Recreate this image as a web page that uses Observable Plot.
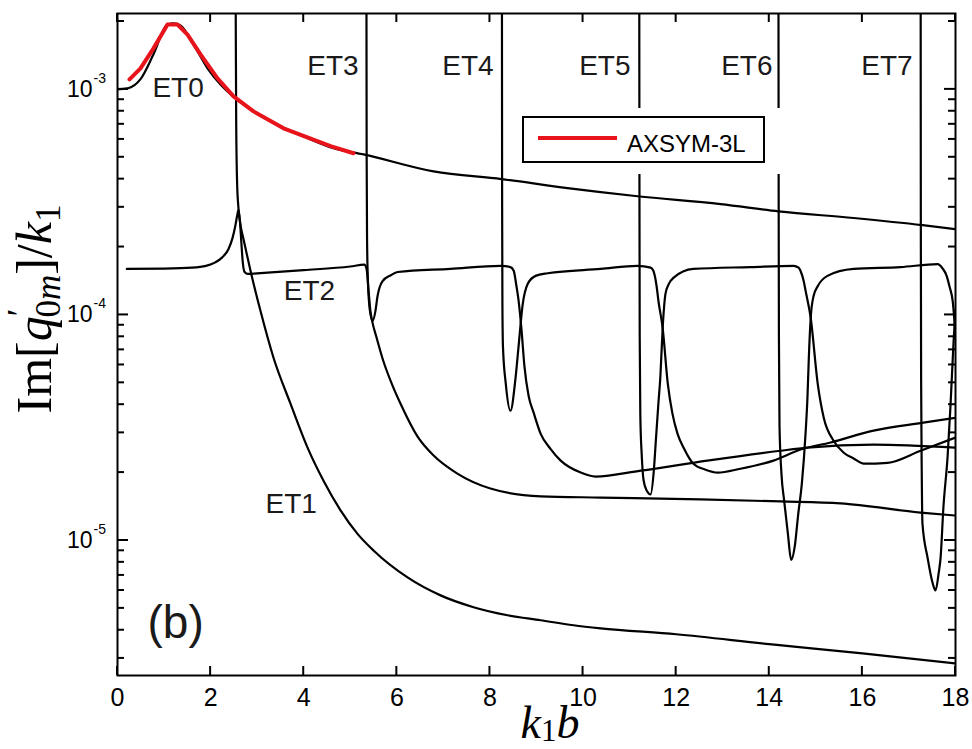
<!DOCTYPE html>
<html>
<head>
<meta charset="utf-8">
<script src="https://cdn.jsdelivr.net/npm/d3@7"></script>
<script src="https://cdn.jsdelivr.net/npm/@observablehq/plot@0.6"></script>
<style>
  body { margin: 0; background: #fff; }
  #wrap { position: relative; width: 972px; height: 749px; }
  .legend-pad { position: absolute; left: 512px; top: 108px; width: 273px; height: 66px; background: #fff; }
  .legend-box { position: absolute; left: 10px; top: 8px; width: 239px; height: 43px; border: 2px solid #000; background: #fff; }
  .legend-box svg { position: absolute; left: 0; top: 0; }
</style>
</head>
<body>
<div id="wrap"></div>
<script>
// x = k1 b, y = Im[q'_0m]/k1 (log scale)
const xTicks = [0, 2, 4, 6, 8, 10, 12, 14, 16, 18];
const yMajor = [1e-5, 1e-4, 1e-3];
const yMinor = [3e-6, 4e-6, 5e-6, 6e-6, 7e-6, 8e-6, 9e-6,
                2e-5, 3e-5, 4e-5, 5e-5, 6e-5, 7e-5, 8e-5, 9e-5,
                2e-4, 3e-4, 4e-4, 5e-4, 6e-4, 7e-4, 8e-4, 9e-4, 2e-3];

const et0 = [[0,1.0e-3],[0.215,1.01e-3],[0.494,1.11e-3],[0.773,1.43e-3],[1.074,1.94e-3],[1.203,1.96e-3],
  [1.353,1.92e-3],[1.633,1.58e-3],[1.933,1.24e-3],[2.213,1.05e-3],[2.535,9.12e-4],[2.922,7.99e-4],
  [3.502,6.86e-4],[4.039,6.13e-4],[4.64,5.48e-4],[5.285,5.15e-4],[6.788,4.33e-4],[8.249,4.0e-4],
  [9.667,3.65e-4],[11.171,3.36e-4],[12.954,3.10e-4],[14.2,2.88e-4],[15.811,2.69e-4],[17.294,2.50e-4],[18,2.40e-4]];

const et1 = [[2.535,1e-1],[2.54,2e-3],[2.55,7e-4],[2.57,3.8e-4],[2.60,2.95e-4],[2.65,2.45e-4],[2.70,2.2e-4],
  [2.78,1.85e-4],[2.857,1.57e-4],[3.072,1.04e-4],[3.351,6.46e-5],[3.716,4.04e-5],[4.082,2.58e-5],
  [4.425,1.84e-5],[4.791,1.36e-5],[5.156,1.07e-5],[5.499,9.03e-6],[6.23,6.86e-6],[6.939,5.71e-6],
  [7.648,5.06e-6],[8.378,4.66e-6],[9.087,4.43e-6],[9.796,4.21e-6],[10.376,4.08e-6],[12,3.84e-6],
  [14,3.47e-6],[16,3.16e-6],[18,2.85e-6]];

const et2 = [[0.2,1.60e-4],[1.0,1.605e-4],[1.6,1.62e-4],[1.9,1.65e-4],[2.1,1.71e-4],[2.25,1.8e-4],
  [2.38,1.95e-4],[2.47,2.19e-4],[2.53,2.48e-4],[2.57,2.75e-4],[2.60,2.92e-4],[2.63,2.6e-4],[2.66,2.1e-4],
  [2.69,1.72e-4],[2.73,1.55e-4],[2.8,1.52e-4],[3.0,1.53e-4],[4.0,1.58e-4],[5.0,1.64e-4],[5.3,1.67e-4],
  [5.35,1.6e-4],[5.39,1.3e-4],[5.43,1.05e-4],[5.48,9.2e-5],[5.56,8.0e-5],[5.71,6.25e-5],[5.91,4.85e-5],
  [6.08,4.04e-5],[6.45,2.88e-5],[6.79,2.38e-5],[7.30,1.98e-5],[8.01,1.70e-5],[9.09,1.57e-5],[10.38,1.55e-5],
  [12.52,1.52e-5],[14.24,1.49e-5],[15.53,1.46e-5],[17.25,1.33e-5],[18,1.29e-5]];

const et3 = [[5.345,1e-1],[5.348,2e-3],[5.352,5e-4],[5.36,2.2e-4],[5.38,1.4e-4],[5.42,1.05e-4],[5.48,9.4e-5],
  [5.54,1.04e-4],[5.585,1.21e-4],[5.69,1.41e-4],[5.87,1.50e-4],[6.02,1.55e-4],[7.15,1.60e-4],[8.23,1.65e-4],
  [8.44,1.63e-4],[8.51,1.57e-4],[8.57,1.34e-4],[8.61,1.18e-4],[8.68,8.5e-5],[8.74,5.94e-5],[8.83,4.38e-5],
  [8.94,3.68e-5],[9.09,2.97e-5],[9.30,2.55e-5],[9.52,2.26e-5],[9.95,2.0e-5],[10.27,1.92e-5],[11.24,2.04e-5],
  [12.67,2.26e-5],[14.24,2.50e-5],[14.82,2.58e-5],[16.24,2.66e-5],[18,2.58e-5]];

const et4 = [[8.255,1e-1],[8.258,2e-3],[8.262,3e-4],[8.268,1.1e-4],[8.28,7.2e-5],[8.34,4.96e-5],[8.44,3.76e-5],
  [8.55,5.26e-5],[8.62,7.45e-5],[8.70,1.10e-4],[8.81,1.37e-4],[8.98,1.49e-4],[9.24,1.53e-4],[10.38,1.60e-4],
  [11.17,1.65e-4],[11.45,1.62e-4],[11.51,1.57e-4],[11.58,1.34e-4],[11.62,1.15e-4],[11.71,8.75e-5],
  [11.82,4.96e-5],[11.92,3.65e-5],[12.03,2.97e-5],[12.16,2.58e-5],[12.37,2.19e-5],[12.63,2.06e-5],
  [12.89,2.0e-5],[13.38,2.08e-5],[14.09,2.26e-5],[14.67,2.53e-5],[15.32,2.72e-5],[16.24,3.07e-5],
  [17.31,3.33e-5],[18,3.5e-5]];

const et5 = [[11.205,1e-1],[11.208,2e-3],[11.212,3e-4],[11.217,8e-5],[11.23,3.6e-5],[11.26,2.4e-5],
  [11.30,1.85e-5],[11.37,1.66e-5],[11.45,1.60e-5],[11.52,2.04e-5],[11.56,2.7e-5],[11.62,4.1e-5],
  [11.66,5.3e-5],[11.71,8.75e-5],[11.77,1.24e-4],[11.84,1.37e-4],[11.94,1.46e-4],[12.37,1.60e-4],
  [13.6,1.63e-4],[14.52,1.65e-4],[14.63,1.62e-4],[14.67,1.57e-4],[14.74,1.41e-4],[14.78,1.28e-4],
  [14.89,9.7e-5],[15.04,4.96e-5],[15.17,3.5e-5],[15.38,2.77e-5],[15.6,2.45e-5],[15.81,2.31e-5],
  [16.03,2.19e-5],[16.54,2.21e-5],[17.25,2.5e-5],[18,2.86e-5]];

const et6 = [[14.195,1e-1],[14.198,2e-3],[14.202,3e-4],[14.207,8e-5],[14.22,3.2e-5],[14.26,2.0e-5],
  [14.32,1.5e-5],[14.40,1.07e-5],[14.47,8.2e-6],[14.55,9.5e-6],[14.62,1.3e-5],[14.70,1.79e-5],
  [14.78,3.0e-5],[14.82,4.3e-5],[14.85,6.5e-5],[14.89,9.7e-5],[14.95,1.21e-4],[15.04,1.34e-4],
  [15.25,1.49e-4],[15.81,1.60e-4],[16.82,1.63e-4],[17.62,1.68e-4],[17.72,1.61e-4],[17.81,1.49e-4],
  [17.87,1.34e-4],[17.94,1.15e-4],[18,8.1e-5]];

const et7 = [[17.25,1e-1],[17.252,2e-3],[17.256,2e-4],[17.262,5e-5],[17.275,2e-5],[17.29,1.19e-5],
  [17.40,8.4e-6],[17.51,6.46e-6],[17.57,6.0e-6],[17.64,7.2e-6],[17.68,8.4e-6],[17.74,1.40e-5],
  [17.83,2.35e-5],[17.89,3.87e-5],[17.96,7.7e-5],[18,1.05e-4]];

// AXSYM-3L reference solution
const axsym = [[0.258,1.107e-3],[0.494,1.24e-3],[0.773,1.52e-3],[1.074,1.94e-3],[1.289,1.94e-3],
  [1.504,1.75e-3],[1.783,1.43e-3],[2.148,1.12e-3],[2.492,9.31e-4],[2.922,7.99e-4],[3.566,6.72e-4],
  [4.576,5.6e-4],[5.07,5.21e-4]];

// mode labels: left-anchored ones and ones right-aligned against their cut-on line
const labelsStart = [
  {text: "ET0", x: 0.75, y: 9.21e-4},
  {text: "ET1", x: 3.18, y: 1.32e-5},
  {text: "ET2", x: 3.57, y: 1.17e-4}
];
const labelsEnd = [
  {text: "ET3", x: 5.18, y: 1.16e-3},
  {text: "ET4", x: 8.08, y: 1.16e-3},
  {text: "ET5", x: 11.02, y: 1.16e-3},
  {text: "ET6", x: 14.07, y: 1.16e-3},
  {text: "ET7", x: 17.08, y: 1.16e-3}
];
const panelLabel = [{text: "(b)", x: 0.645, y: 3.68e-6}];

const modes = [["ET0", et0], ["ET1", et1], ["ET2", et2], ["ET3", et3], ["ET4", et4],
               ["ET5", et5], ["ET6", et6], ["ET7", et7]];
const table = modes.flatMap(([name, pts]) => pts.map(([x, y]) => ({name, x, y})));
const redTable = axsym.map(([x, y]) => ({x, y}));

const mL = 117, mR = 17, mT = 13, mB = 74, W = 972, H = 749;
const xDom = [0, 18], yDom = [2.52e-6, 2.17e-3];

const chart = Plot.plot({
  width: W, height: H,
  marginLeft: mL, marginRight: mR, marginTop: mT, marginBottom: mB,
  style: {fontFamily: "'Liberation Sans', Arial, sans-serif", background: "#fff", color: "#000"},
  x: {domain: xDom},
  y: {type: "log", domain: yDom},
  marks: [
    Plot.axisX({ticks: xTicks, tickSize: 0, tickPadding: 13, fontSize: 25, label: null}),
    Plot.axisY({ticks: [], label: null}),
    Plot.text(yMajor, {x: () => 0, y: d => d, text: () => "10", textAnchor: "end", dx: -25, fontSize: 23, lineAnchor: "middle"}),
    Plot.text(yMajor, {x: () => 0, y: d => d, text: d => "-" + Math.round(-Math.log10(d)), textAnchor: "start", dx: -24, dy: -11, fontSize: 14, lineAnchor: "middle"}),
    Plot.line(table, {x: "x", y: "y", z: "name", stroke: "#000", strokeWidth: 2.2, curve: "monotone-x", clip: true}),
    Plot.line(redTable, {x: "x", y: "y", stroke: "#e8141b", strokeWidth: 4, curve: "linear", clip: true}),
    Plot.text(labelsStart, {x: "x", y: "y", text: "text", textAnchor: "start", lineAnchor: "bottom", fontSize: 28, fill: "#1a1a1a"}),
    Plot.text(labelsEnd, {x: "x", y: "y", text: "text", textAnchor: "end", lineAnchor: "bottom", fontSize: 28, fill: "#1a1a1a"}),
    Plot.text(panelLabel, {x: "x", y: "y", text: "text", textAnchor: "start", lineAnchor: "bottom", fontSize: 46, fill: "#1a1a1a"}),
    Plot.frame({stroke: "#000", strokeWidth: 2})
  ]
});

const svg = d3.select(chart);
const sx = chart.scale("x"), sy = chart.scale("y");

// inward ticks on all four sides, placed with the plot's own scales
const ticks = svg.append("g");
const yBottom = H - mB, yTop = mT, xLeft = mL, xRight = W - mR;
const tickLine = (x1, y1, x2, y2) => ticks.append("line")
  .attr("x1", x1).attr("y1", y1).attr("x2", x2).attr("y2", y2)
  .style("stroke", "#000").style("stroke-width", "2px");
for (const v of xTicks) {
  const px = sx.apply(v);
  tickLine(px, yBottom, px, yBottom - 9);
  tickLine(px, yTop, px, yTop + 9);
}
for (const [vals, len] of [[yMajor, 11], [yMinor, 7]]) {
  for (const v of vals) {
    const py = sy.apply(v);
    tickLine(xLeft, py, xLeft + len, py);
    tickLine(xRight, py, xRight - len, py);
  }
}

const serif = "'Liberation Serif', 'DejaVu Serif', serif";

// x-axis label: k_1 b
const xl = svg.append("text")
  .attr("x", 550).attr("y", 738)
  .attr("text-anchor", "middle")
  .attr("font-family", serif).attr("font-size", 46).attr("fill", "#000");
xl.append("tspan").attr("font-style", "italic").text("k");
xl.append("tspan").attr("font-size", 31).attr("dy", 3).text("1");
xl.append("tspan").attr("font-style", "italic").attr("dy", -3).text("b");

// y-axis label: Im[q'_{0m}]/k_1
const yl = svg.append("text")
  .attr("transform", "translate(51,309) rotate(-90)")
  .attr("text-anchor", "middle")
  .attr("font-family", serif).attr("font-size", 50).attr("fill", "#000");
yl.append("tspan").text("Im[");
yl.append("tspan").attr("font-style", "italic").text("q");
yl.append("tspan").attr("font-size", 35).attr("dy", -19).text("\u2032");
yl.append("tspan").attr("font-size", 35).attr("dx", -9).attr("dy", 28).text("0");
yl.append("tspan").attr("font-size", 35).attr("font-style", "italic").text("m");
yl.append("tspan").attr("dy", -9).text("]/");
yl.append("tspan").attr("font-style", "italic").text("k");
yl.append("tspan").attr("font-size", 35).attr("dy", 9).text("1");

const wrap = document.getElementById("wrap");
wrap.appendChild(chart);

// legend
const pad = document.createElement("div");
pad.className = "legend-pad";
pad.innerHTML = `<div class="legend-box"><svg width="239" height="43">
  <line x1="14" x2="93" y1="20" y2="20" stroke="#e8141b" stroke-width="4"/>
  <text x="103" y="34" font-family="'Liberation Sans', Arial, sans-serif" font-size="24" fill="#000">AXSYM-3L</text>
</svg></div>`;
wrap.appendChild(pad);
</script>
</body>
</html>
